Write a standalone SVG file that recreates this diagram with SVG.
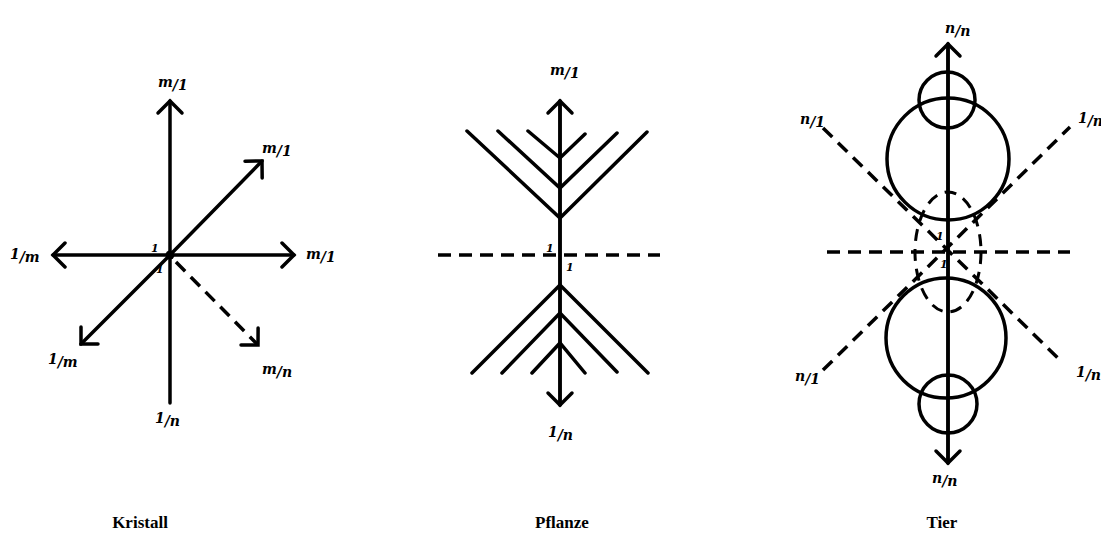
<svg xmlns="http://www.w3.org/2000/svg" width="1101" height="535" viewBox="0 0 1101 535">
<style>
.ln{stroke:#000;stroke-width:3.5;fill:none;stroke-linecap:round}
.dl{stroke:#000;stroke-width:3.5;fill:none;stroke-dasharray:13 8}
.dt{stroke:#000;stroke-width:3;fill:none;stroke-dasharray:12 8}
.ci{stroke:#000;stroke-width:3.5;fill:none}
.lb{font-family:"DejaVu Serif",serif;font-style:italic;font-weight:bold;font-size:14px;fill:#000}
.sm{font-family:"DejaVu Serif",serif;font-style:italic;font-weight:bold;font-size:11px;fill:#000}
.cap{font-family:"Liberation Serif",serif;font-weight:bold;font-size:17px;fill:#000;text-anchor:middle}
</style>
<defs>
<marker id="ah" markerUnits="userSpaceOnUse" markerWidth="30" markerHeight="30" refX="15" refY="15" orient="auto" viewBox="0 0 30 30">
<path d="M3,3 L15,15 L3,27" fill="none" stroke="#000" stroke-width="3.5" stroke-linecap="round" stroke-linejoin="miter"/>
</marker>
</defs>
<rect width="1101" height="535" fill="#fff"/>

<g id="kristall">
<g id="kristall-connectors">
<line class="ln" x1="170" y1="403" x2="170" y2="101" marker-end="url(#ah)"/>
<line class="ln" x1="170" y1="255" x2="294" y2="255" marker-end="url(#ah)"/>
<line class="ln" x1="170" y1="255" x2="53" y2="255" marker-end="url(#ah)"/>
<line class="ln" x1="170" y1="255" x2="262" y2="161" marker-end="url(#ah)"/>
<line class="ln" x1="170" y1="255" x2="81" y2="344" marker-end="url(#ah)"/>
<line class="dl" x1="176" y1="262" x2="258" y2="345" marker-end="url(#ah)"/>
</g>
<circle cx="170" cy="255" r="4.5" fill="#000"/>
<text class="lb" x="158" y="90"><tspan dy="-3">m</tspan><tspan dy="3">/1</tspan></text>
<text class="lb" x="262" y="156"><tspan dy="-3">m</tspan><tspan dy="3">/1</tspan></text>
<text class="lb" x="306" y="262"><tspan dy="-3">m</tspan><tspan dy="3">/1</tspan></text>
<text class="lb" x="10" y="262"><tspan dy="-3">1</tspan><tspan dy="3">/m</tspan></text>
<text class="lb" x="48" y="367"><tspan dy="-3">1</tspan><tspan dy="3">/m</tspan></text>
<text class="lb" x="262" y="377"><tspan dy="-3">m</tspan><tspan dy="3">/n</tspan></text>
<text class="lb" x="155" y="426"><tspan dy="-3">1</tspan><tspan dy="3">/n</tspan></text>
<text class="sm" x="151" y="252">1</text>
<text class="sm" x="156" y="273">1</text>
<text class="cap" x="140" y="528">Kristall</text>
</g>

<g id="pflanze">
<g id="pflanze-connectors">
<line class="ln" x1="560" y1="405" x2="560" y2="101" marker-end="url(#ah)"/>
<line class="ln" x1="560" y1="101" x2="560" y2="405" marker-end="url(#ah)"/>
<line class="dl" x1="438" y1="255" x2="660" y2="255"/>
</g>
<path class="ln" d="M467,131 L560,218 L647,132 M498,131 L560,188 L617,133 M528,131 L560,158 L585,134"/>
<path class="ln" d="M472,373 L560,285 L648,373 M502,373 L560,313 L617,372 M532,373 L560,343 L585,373"/>
<text class="lb" x="550" y="78"><tspan dy="-3">m</tspan><tspan dy="3">/1</tspan></text>
<text class="lb" x="548" y="440"><tspan dy="-3">1</tspan><tspan dy="3">/n</tspan></text>
<text class="sm" x="546" y="252">1</text>
<text class="sm" x="566" y="271">1</text>
<text class="cap" x="562" y="528">Pflanze</text>
</g>

<g id="tier">
<g id="tier-connectors">
<line class="ln" x1="948" y1="463" x2="948" y2="44" marker-end="url(#ah)"/>
<line class="ln" x1="948" y1="44" x2="948" y2="463" marker-end="url(#ah)"/>
<line class="dl" x1="827" y1="252" x2="1070" y2="252"/>
<line class="dl" x1="823" y1="128" x2="1063" y2="363"/>
<line class="dl" x1="823" y1="370" x2="1070" y2="127"/>
</g>
<circle class="ci" cx="947" cy="100" r="28"/>
<circle class="ci" cx="948" cy="159" r="61"/>
<circle class="ci" cx="946" cy="338" r="60"/>
<circle class="ci" cx="948" cy="404" r="29"/>
<ellipse class="dt" cx="948" cy="252" rx="33" ry="60"/>
<text class="lb" x="945" y="36"><tspan dy="-3">n</tspan><tspan dy="3">/n</tspan></text>
<text class="lb" x="800" y="127"><tspan dy="-3">n</tspan><tspan dy="3">/1</tspan></text>
<text class="lb" x="1078" y="126"><tspan dy="-3">1</tspan><tspan dy="3">/n</tspan></text>
<text class="lb" x="795" y="384"><tspan dy="-3">n</tspan><tspan dy="3">/1</tspan></text>
<text class="lb" x="1076" y="380"><tspan dy="-3">1</tspan><tspan dy="3">/n</tspan></text>
<text class="lb" x="932" y="486"><tspan dy="-3">n</tspan><tspan dy="3">/n</tspan></text>
<text class="sm" x="936" y="240">1</text>
<text class="sm" x="940" y="268">1</text>
<text class="cap" x="942" y="528">Tier</text>
</g>
</svg>
